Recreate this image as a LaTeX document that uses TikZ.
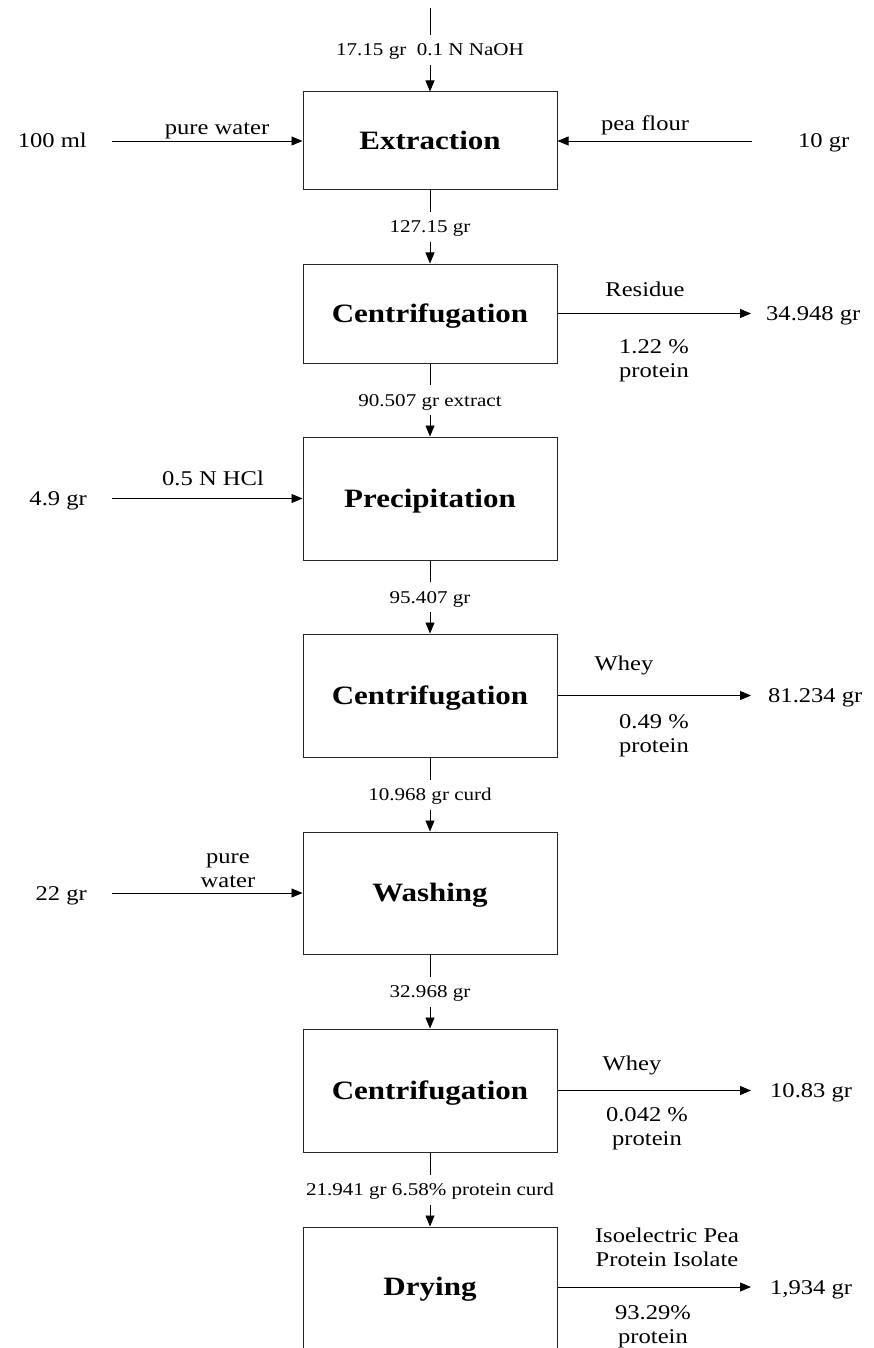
\documentclass[tikz,border=0pt]{standalone}
\usepackage{fontspec}
\setmainfont{Liberation Serif}[FakeStretch=1.17]
\usetikzlibrary{arrows.meta}
\begin{document}
\begin{tikzpicture}[x=1pt,y=-1pt,
  proc/.style={draw=black!85, line width=1pt, minimum width=254pt, inner sep=0pt,
    text height=17.5pt, text depth=0pt,
    font=\fontsize{26.5}{30}\selectfont\bfseries},
  ttl/.style={inner sep=0pt, text height=17.5pt, text depth=0pt,
    font=\fontsize{26.5}{30}\selectfont\bfseries},
  flow/.style={line width=0.9pt, -{Triangle[length=11pt,width=9pt]}},
  mid/.style={font=\fontsize{18}{20}\selectfont, fill=white, inner xsep=2pt, inner ysep=7pt,
    text height=14pt, text depth=2pt},
  side/.style={font=\fontsize{21}{24}\selectfont, inner sep=0pt, align=center},
  one/.style={side, text height=14pt, text depth=0pt}]
\useasboundingbox (0,0) rectangle (874,1348);
\clip (0,0) rectangle (874,1348);

% process boxes
\node[proc, minimum height=98pt]  (ext) at (430,141)   {Extraction};
\node[proc, minimum height=99pt]  (c1)  at (430,313.5) {Centrifugation};
\node[proc, minimum height=123pt] (pre) at (430,498.5) {Precipitation};
\node[proc, minimum height=123pt] (c2)  at (430,695.5) {Centrifugation};
\node[proc, minimum height=122pt] (wsh) at (430,893)   {Washing};
\node[proc, minimum height=123pt] (c3)  at (430,1090.5){Centrifugation};
\node[proc, minimum height=130pt] (dry) at (430,1292)  {};
\node[ttl] (drytxt) at (430,1287) {Drying};

% vertical flows
\coordinate (top) at (430,8);
\draw[flow] (top) -- node[mid]{17.15 gr\ \ 0.1 N NaOH} (ext.north);
\draw[flow] (ext.south) -- node[mid]{127.15 gr} (c1.north);
\draw[flow] (c1.south) -- node[mid]{90.507 gr extract} (pre.north);
\draw[flow] (pre.south) -- node[mid]{95.407 gr} (c2.north);
\draw[flow] (c2.south) -- node[mid]{10.968 gr curd} (wsh.north);
\draw[flow] (wsh.south) -- node[mid]{32.968 gr} (c3.north);
\draw[flow] (c3.south) -- node[mid]{21.941 gr 6.58\% protein curd} (dry.north);

% inputs to Extraction
\node[one, anchor=east] (w1) at (87,141) {100 ml};
\coordinate (w1s) at (112,141);
\draw[flow] (w1s) -- (ext.west);
\node[one] (w1l) at (217,128) {pure water};
\node[one, anchor=west] (pf) at (798,141) {10 gr};
\coordinate (pfs) at (752,141);
\draw[flow] (pfs) -- (ext.east);
\node[one] (pfl) at (645,124) {pea flour};

% Centrifugation 1 output
\coordinate (o1) at (751,313.5);
\draw[flow] (c1.east) -- (o1);
\node[one] (r1) at (645,289) {Residue};
\node[one, anchor=west] (r1v) at (766,313.5) {34.948 gr};
\node[side] (r1p) at (654,360.5) {1.22 \%\\protein};

% Precipitation input
\node[one, anchor=east] (h1) at (87,498.5) {4.9 gr};
\coordinate (h1s) at (112,498.5);
\draw[flow] (h1s) -- (pre.west);
\node[one] (h1l) at (213,478) {0.5 N HCl};

% Centrifugation 2 output
\coordinate (o2) at (751,695.5);
\draw[flow] (c2.east) -- (o2);
\node[one] (r2) at (624,663) {Whey};
\node[one, anchor=west] (r2v) at (768,695.5) {81.234 gr};
\node[side] (r2p) at (654,735.5) {0.49 \%\\protein};

% Washing input
\node[one, anchor=east] (wa) at (87,893) {22 gr};
\coordinate (was) at (112,893);
\draw[flow] (was) -- (wsh.west);
\node[side] (wal) at (228,871) {pure\\water};

% Centrifugation 3 output
\coordinate (o3) at (751,1090.5);
\draw[flow] (c3.east) -- (o3);
\node[one] (r3) at (632,1063) {Whey};
\node[one, anchor=west] (r3v) at (770,1090.5) {10.83 gr};
\node[side] (r3p) at (647,1129) {0.042 \%\\protein};

% Drying output
\coordinate (o4) at (751,1287);
\draw[flow] (dry.east |- drytxt) -- (o4);
\node[side] (r4) at (667,1247) {Isoelectric Pea\\Protein Isolate};
\node[one, anchor=west] (r4v) at (770,1287) {1,934 gr};
\node[side] (r4p) at (653,1327) {93.29\%\\protein};
\end{tikzpicture}
\end{document}
